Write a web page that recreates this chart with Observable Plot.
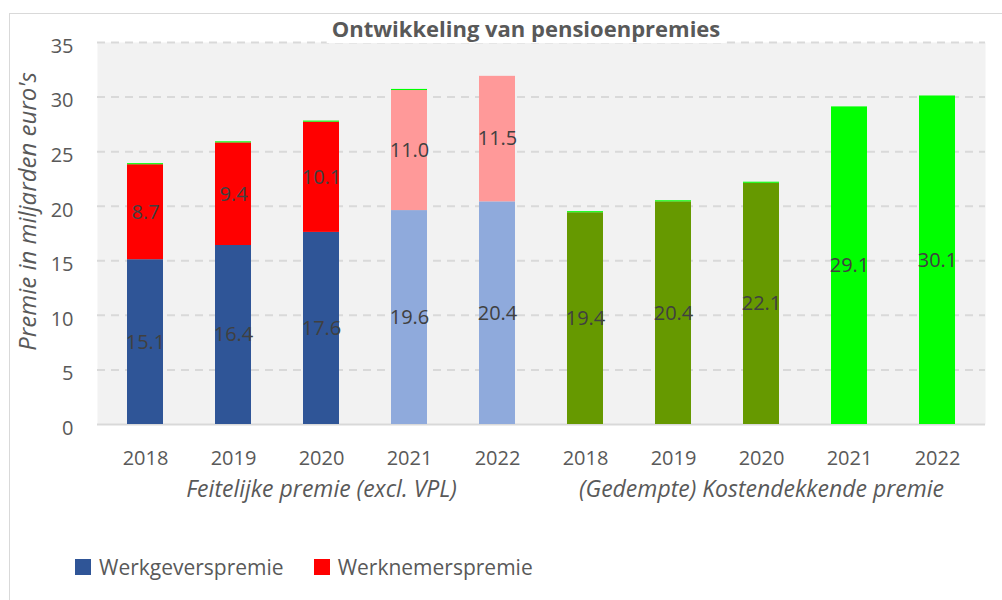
<!DOCTYPE html>
<html><head><meta charset="utf-8">
<script src="https://cdn.jsdelivr.net/npm/d3@7"></script>
<script src="https://cdn.jsdelivr.net/npm/@observablehq/plot@0.6"></script>
<style>
html,body{margin:0;padding:0;background:#fff;overflow:hidden;width:1002px;height:600px;font-family:"Open Sans",sans-serif;}
#wrap{position:relative;width:1002px;height:600px;overflow:hidden}
#border{position:absolute;left:9px;top:13px;width:1100px;height:700px;border:1.5px solid #d9d9d9;box-sizing:border-box}
#chart{position:absolute;left:0;top:0}
#title{position:absolute;top:14px;left:526px;transform:translateX(-50%);font-weight:bold;font-size:22px;color:#595959;background:#fff;padding:0 5px;line-height:29px;white-space:nowrap}
#legend{position:absolute;top:553px;left:75px;display:flex;align-items:center;font-size:21px;color:#595959;white-space:nowrap}
.item{display:flex;align-items:center}
.sw{width:16px;height:16px;display:inline-block;margin-right:8px}
</style></head>
<body><div id="wrap"><div id="border"></div><div id="chart"></div>
<div id="title"></div>
<div id="legend"></div></div>
<script>
const chartTitle = "Ontwikkeling van pensioenpremies";
const yTitle = "Premie in miljarden euro's";
const groupLabels = ["Feitelijke premie (excl. VPL)", "(Gedempte) Kostendekkende premie"];
const groupPrefix = ["F", "K"];
const years = ["2018", "2019", "2020", "2021", "2022"];
const werkgeverspremie = [15.1, 16.4, 17.6, 19.6, 20.4];
const werknemerspremie = [8.7, 9.4, 10.1, 11.0, 11.5];
const kostendekkend = [19.4, 20.4, 22.1, 29.1, 30.1];
const sliverF = [0.1, 0.1, 0.1, 0.1, 0];
const sliverK = [0.1, 0.1, 0.1, 0, 0];
const yTicks = [0, 5, 10, 15, 20, 25, 30, 35];
const legendNames = ["Werkgeverspremie", "Werknemerspremie"];

// styles
const palette = {
  werkgever: ["#2f5597", "#2f5597", "#2f5597", "#8faadc", "#8faadc"],
  werknemer: ["#ff0000", "#ff0000", "#ff0000", "#ff9999", "#ff9999"],
  kosten: ["#669900", "#669900", "#669900", "#00ff00", "#00ff00"],
  rand: ["#00ff00", "#00ff00", "#00ff00", "#00ff00", "#00ff00"]
};

const keys = [];
const rows = [];
groupPrefix.forEach(p => years.forEach(y => keys.push(p + y)));
years.forEach((y, i) => {
  rows.push({key: "F" + y, i, series: "werkgever", value: werkgeverspremie[i]});
  rows.push({key: "F" + y, i, series: "werknemer", value: werknemerspremie[i]});
  rows.push({key: "F" + y, i, series: "rand", value: sliverF[i]});
});
years.forEach((y, i) => {
  rows.push({key: "K" + y, i, series: "kosten", value: kostendekkend[i]});
  rows.push({key: "K" + y, i, series: "rand", value: sliverK[i]});
});
const groupRows = groupLabels.map((g, j) => ({label: g, key: groupPrefix[j] + years[2]}));

const plot = Plot.plot({
  width: 1002, height: 510,
  marginLeft: 97, marginRight: 17, marginTop: 42, marginBottom: 86,
  style: {background: "transparent", fontFamily: "Open Sans, sans-serif", overflow: "visible"},
  x: {domain: keys, paddingInner: 0.595, paddingOuter: 0.2975, label: null},
  y: {domain: [0, 35], label: null},
  color: {type: "identity"},
  marks: [
    Plot.frame({fill: "#f2f2f2", stroke: null}),
    Plot.gridY(yTicks.filter(v => v > 0), {stroke: "#d9d9d9", strokeOpacity: 1, strokeWidth: 2, strokeDasharray: "8,6"}),
    Plot.ruleY([0], {stroke: "#d9d9d9", strokeWidth: 2}),
    Plot.barY(rows, {x: "key", y: "value", z: "series", fill: d => palette[d.series][d.i]}),
    Plot.text(rows.filter(d => d.series !== "rand"), Plot.stackY({x: "key", y: "value", z: "series", text: d => d.value.toFixed(1), fill: "#404040", fontSize: 20})),
    Plot.axisX({tickSize: 0, tickPadding: 26, fontSize: 20, fill: "#595959", tickFormat: k => k.slice(1), label: null}),
    Plot.axisY({ticks: yTicks, tickSize: 0, tickPadding: 24, fontSize: 20, fill: "#595959", dy: 4, label: null}),
    Plot.text(groupRows, {x: "key", text: "label", frameAnchor: "bottom", dy: 72, fontSize: 23, fontStyle: "italic", fill: "#595959"}),
    Plot.text([yTitle], {frameAnchor: "left", textAnchor: "middle", dx: -69, dy: -22, rotate: -90, fontSize: 24, fontStyle: "italic", fill: "#595959"})
  ]
});
document.getElementById("chart").appendChild(plot);
document.getElementById("title").textContent = chartTitle;
const lg = document.getElementById("legend");
const legendColors = [palette.werkgever[0], palette.werknemer[0]];
legendNames.forEach((n, j) => {
  const it = document.createElement("div");
  it.className = "item";
  if (j > 0) it.style.marginLeft = "30px";
  it.innerHTML = `<span class="sw" style="background:${legendColors[j]}"></span><span>${n}</span>`;
  lg.appendChild(it);
});
</script></body></html>
